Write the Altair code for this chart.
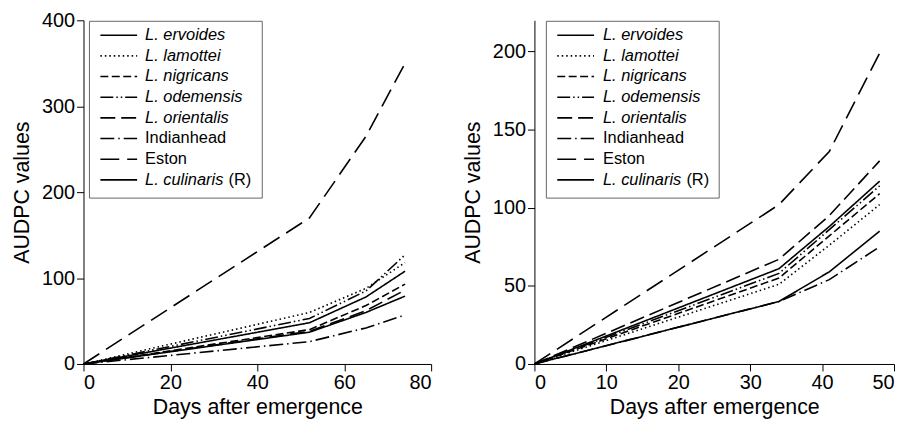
import altair as alt
import pandas as pd

# ---------------- data ----------------
names = ["L. ervoides", "L. lamottei", "L. nigricans", "L. odemensis",
         "L. orientalis", "Indianhead", "Eston", "L. culinaris (R)"]
italic_part = ["L. ervoides", "L. lamottei", "L. nigricans", "L. odemensis",
               "L. orientalis", "", "", "L. culinaris"]
plain_part = ["", "", "", "", "", "Indianhead", "Eston", "(R)"]

# left panel
days_left = [0, 52, 65, 74]
left_ervoides = [0, 48, 78, 108]
left_lamottei = [0, 60, 88, 118]
left_nigricans = [0, 40, 68, 93]
left_odemensis = [0, 53, 85, 127]
left_orientalis = [0, 38, 62, 86]
left_indianhead = [0, 26, 42, 57]
left_eston = [0, 170, 265, 350]
left_culinaris = [0, 37, 60, 79]

# right panel
days_right = [0, 34, 41, 48]
right_ervoides = [0, 61, 88, 117]
right_lamottei = [0, 51, 76, 102]
right_nigricans = [0, 55, 82, 109]
right_odemensis = [0, 58, 86, 114]
right_orientalis = [0, 67, 95, 130]
right_indianhead = [0, 40, 54, 75]
right_eston = [0, 102, 136, 199]
right_culinaris = [0, 40, 59, 85]

left_series = [left_ervoides, left_lamottei, left_nigricans, left_odemensis,
               left_orientalis, left_indianhead, left_eston, left_culinaris]
right_series = [right_ervoides, right_lamottei, right_nigricans, right_odemensis,
                right_orientalis, right_indianhead, right_eston, right_culinaris]

# ---------------- styles ----------------
dashes = [[1, 0], [1.5, 3], [8, 3.5], [13, 3, 1.5, 3, 1.5, 3], [15, 6],
          [14, 4, 1.5, 4], [19, 8], [1, 0]]
FONT = "Liberation Sans"
LINE_W = 1.6
dash_scale = alt.Scale(domain=names, range=dashes)


def long_df(days, series):
    rows = []
    for n, vals in zip(names, series):
        for d, v in zip(days, vals):
            rows.append({"series": n, "day": d, "auc": v})
    return pd.DataFrame(rows)


def panel(days, series, xdom, xticks, ydom, yticks, w, h, box_x0, box_x1,
          samp_x0, samp_x1, text_x, r_offset):
    df = long_df(days, series)
    lines = alt.Chart(df).mark_line(color="black", strokeWidth=LINE_W).encode(
        x=alt.X("day:Q", scale=alt.Scale(domain=xdom, nice=False),
                axis=alt.Axis(values=xticks, title="Days after emergence")),
        y=alt.Y("auc:Q", scale=alt.Scale(domain=ydom, nice=False),
                axis=alt.Axis(values=yticks, title="AUDPC values")),
        strokeDash=alt.StrokeDash("series:N", scale=dash_scale, legend=None),
        detail="series:N",
        order="day:Q",
    )

    top = 15
    step = 20.8
    leg = pd.DataFrame({
        "series": names,
        "ital": italic_part,
        "plain": plain_part,
        "ly": [top + i * step for i in range(len(names))],
        "px": [text_x + (r_offset if p == "(R)" else 0) for p in plain_part],
    })
    box = alt.Chart(pd.DataFrame({"a": [0]})).mark_rect(
        filled=False, stroke="#666666", strokeWidth=1
    ).encode(
        x=alt.value(box_x0), x2=alt.value(box_x1),
        y=alt.value(1), y2=alt.value(179),
    )
    samples = alt.Chart(leg).mark_rule(color="black", strokeWidth=LINE_W).encode(
        x=alt.value(samp_x0), x2=alt.value(samp_x1),
        y=alt.Y("ly:Q", scale=None, axis=None),
        strokeDash=alt.StrokeDash("series:N", scale=dash_scale, legend=None),
    )
    t_ital = alt.Chart(leg).mark_text(
        align="left", baseline="middle", fontStyle="italic", fontSize=16.5,
        font=FONT, color="black"
    ).encode(
        x=alt.value(text_x),
        y=alt.Y("ly:Q", scale=None, axis=None),
        text="ital:N",
    )
    t_plain = alt.Chart(leg).mark_text(
        align="left", baseline="middle", fontSize=16.5, font=FONT, color="black"
    ).encode(
        x=alt.X("px:Q", scale=None, axis=None),
        y=alt.Y("ly:Q", scale=None, axis=None),
        text="plain:N",
    )
    return alt.layer(lines, box, samples, t_ital, t_plain).resolve_scale(
        x="independent", y="independent"
    ).properties(width=w, height=h)


left = panel(days_left, left_series, [0, 80], [0, 20, 40, 60, 80], [0, 400],
             [0, 100, 200, 300, 400], 350, 346, 6, 180, 17, 54, 62, 84)
right = panel(days_right, right_series, [0, 50], [0, 10, 20, 30, 40, 50], [0, 220],
              [0, 50, 100, 150, 200], 362, 346, 12, 186, 23, 60, 69, 84)

chart = alt.hconcat(left, right, spacing=30).properties(
    padding={"left": 3, "top": 1, "right": 0, "bottom": 0}
).configure_view(stroke=None).configure_axis(
    grid=False,
    domainColor="black", tickColor="black", labelColor="black", titleColor="black",
    labelFont=FONT, titleFont=FONT, labelFontSize=20, titleFontSize=21.5,
    titleFontWeight="normal", tickSize=7, labelPadding=2, domainWidth=1, tickWidth=1,
).configure_axisY(titlePadding=8).configure_axisX(titlePadding=4)

chart.save("out.html", embed_options={"renderer": "svg", "actions": False})
